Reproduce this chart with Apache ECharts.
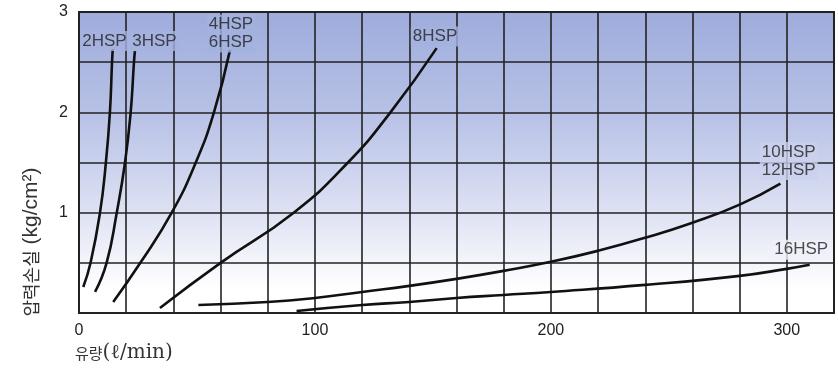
<!DOCTYPE html>
<html>
<head>
<meta charset="utf-8">
<script src="https://cdn.jsdelivr.net/npm/echarts@6/dist/echarts.min.js"></script>
<style>
  html, body { margin: 0; padding: 0; background: #fff; }
  #chart { width: 838px; height: 369px; }
</style>
</head>
<body>
<div id="chart"></div>
<script>
// flow (l/min) vs pressure loss (kg/cm2)
const hsp2X = [1.8, 4.9, 8.9, 11.4, 13.1, 14.0, 14.3];
const hsp2Y = [0.26, 0.5, 1.0, 1.5, 2.0, 2.5, 2.63];
const hsp3X = [6.8, 11.7, 16.0, 19.5, 21.9, 23.3, 23.7];
const hsp3Y = [0.21, 0.5, 1.0, 1.5, 2.0, 2.5, 2.61];
const hsp4X = [14.5, 26.0, 39.3, 49.5, 57.2, 64.0];
const hsp4Y = [0.11, 0.5, 1.0, 1.5, 2.0, 2.62];
const hsp8X = [34.3, 60, 91, 114, 132, 151.6];
const hsp8Y = [0.05, 0.5, 1.0, 1.5, 2.0, 2.64];
const hsp10X = [50.6, 80, 100, 120, 140, 160, 180, 200, 220, 240, 260, 280, 297.3];
const hsp10Y = [0.08, 0.11, 0.15, 0.21, 0.27, 0.34, 0.42, 0.51, 0.62, 0.75, 0.90, 1.08, 1.29];
const hsp16X = [92.2, 120, 140, 160, 180, 200, 240, 280, 300, 309.7];
const hsp16Y = [0.02, 0.08, 0.11, 0.15, 0.18, 0.21, 0.28, 0.37, 0.44, 0.48];

// curve labels and where they sit (data coords)
const labelNames = ["2HSP", "3HSP", "4HSP\n6HSP", "8HSP", "10HSP\n12HSP", "16HSP"];
const labelX = [10.8, 32.0, 64.4, 150.9, 300.8, 306.1];
const labelY = [2.71, 2.71, 2.785, 2.755, 1.515, 0.63];

const xTickLabels = [0, 100, 200, 300];
const yTickLabels = [1, 2, 3];

const bgStops = [
  [0, [158, 172, 220]],
  [0.33, [183, 193, 230]],
  [0.5, [202, 209, 237]],
  [0.67, [222, 226, 243]],
  [0.83, [244, 245, 251]],
  [0.92, [255, 255, 255]],
  [1, [255, 255, 255]],
];

function bgAt(f) {
  for (let i = 1; i < bgStops.length; i++) {
    if (f <= bgStops[i][0]) {
      const a = bgStops[i - 1], b = bgStops[i];
      const t = (f - a[0]) / (b[0] - a[0]);
      const c = a[1].map((v, k) => Math.round(v + (b[1][k] - v) * t));
      return "rgb(" + c.join(",") + ")";
    }
  }
  return "#fff";
}

const zip = (xs, ys) => xs.map((x, i) => [x, ys[i]]);
const curves = [zip(hsp2X, hsp2Y), zip(hsp3X, hsp3Y), zip(hsp4X, hsp4Y),
  zip(hsp8X, hsp8Y), zip(hsp10X, hsp10Y), zip(hsp16X, hsp16Y)];

const chart = echarts.init(document.getElementById("chart"));
const font = "Liberation Sans";

chart.setOption({
  animation: false,
  backgroundColor: "#fff",
  grid: {
    left: 79, top: 12, width: 755, height: 301,
    show: true,
    borderColor: "#222",
    borderWidth: 2,
    backgroundColor: {
      type: "linear", x: 0, y: 0, x2: 0, y2: 1,
      colorStops: bgStops.map((s) => ({ offset: s[0], color: "rgb(" + s[1].join(",") + ")" })),
    },
  },
  xAxis: {
    type: "value",
    min: 0, max: 320, interval: 20,
    axisLine: { show: true, lineStyle: { color: "#222", width: 2 } },
    axisTick: { show: false },
    splitLine: { show: true, lineStyle: { color: "#222", width: 1.6 } },
    axisLabel: {
      margin: 10,
      fontFamily: font, fontSize: 16, color: "#222",
      formatter: (v) => (xTickLabels.includes(v) ? String(v) : ""),
    },
  },
  yAxis: {
    type: "value",
    min: 0, max: 3, interval: 0.5,
    axisLine: { show: true, lineStyle: { color: "#222", width: 2 } },
    axisTick: { show: false },
    splitLine: { show: true, lineStyle: { color: "#222", width: 1.6 } },
    axisLabel: {
      margin: 11,
      fontFamily: font, fontSize: 16, color: "#222",
      formatter: (v) => (yTickLabels.includes(v) ? String(v) : ""),
    },
  },
  series: curves.map((d) => ({
    type: "line",
    data: d,
    smooth: 0.5,
    symbol: "none",
    silent: true,
    lineStyle: { color: "#111", width: 2.6 },
  })).concat([{
    type: "scatter",
    symbolSize: 0,
    silent: true,
    z: 5,
    data: labelNames.map((n, i) => ({
      name: n,
      value: [labelX[i], labelY[i]],
      label: {
        backgroundColor: bgAt((3 - labelY[i]) / 3),
      },
    })),
    label: {
      show: true,
      position: "inside",
      formatter: (p) => p.name,
      fontFamily: font,
      fontSize: 17,
      lineHeight: 18,
      color: "#222",
      padding: [1, 2],
    },
  }]),
  graphic: [
    {
      type: "text",
      left: 75, top: 343,
      style: {
        text: "{k|유량}{s|(ℓ/min)}",
        rich: {
          k: { fontFamily: "Noto Sans CJK KR", fontSize: 15, fill: "#333" },
          s: { fontFamily: "DejaVu Serif", fontSize: 20, fill: "#333" },
        },
      },
    },
    {
      type: "text",
      x: 31, y: 242,
      rotation: Math.PI / 2,
      style: {
        text: "{k|압력손실}{s| (kg/cm²)}",
        align: "center",
        verticalAlign: "middle",
        rich: {
          k: { fontFamily: "Noto Sans CJK KR", fontSize: 18, fill: "#333" },
          s: { fontFamily: font, fontSize: 21, fill: "#333" },
        },
      },
    },
  ],
});
</script>
</body>
</html>
